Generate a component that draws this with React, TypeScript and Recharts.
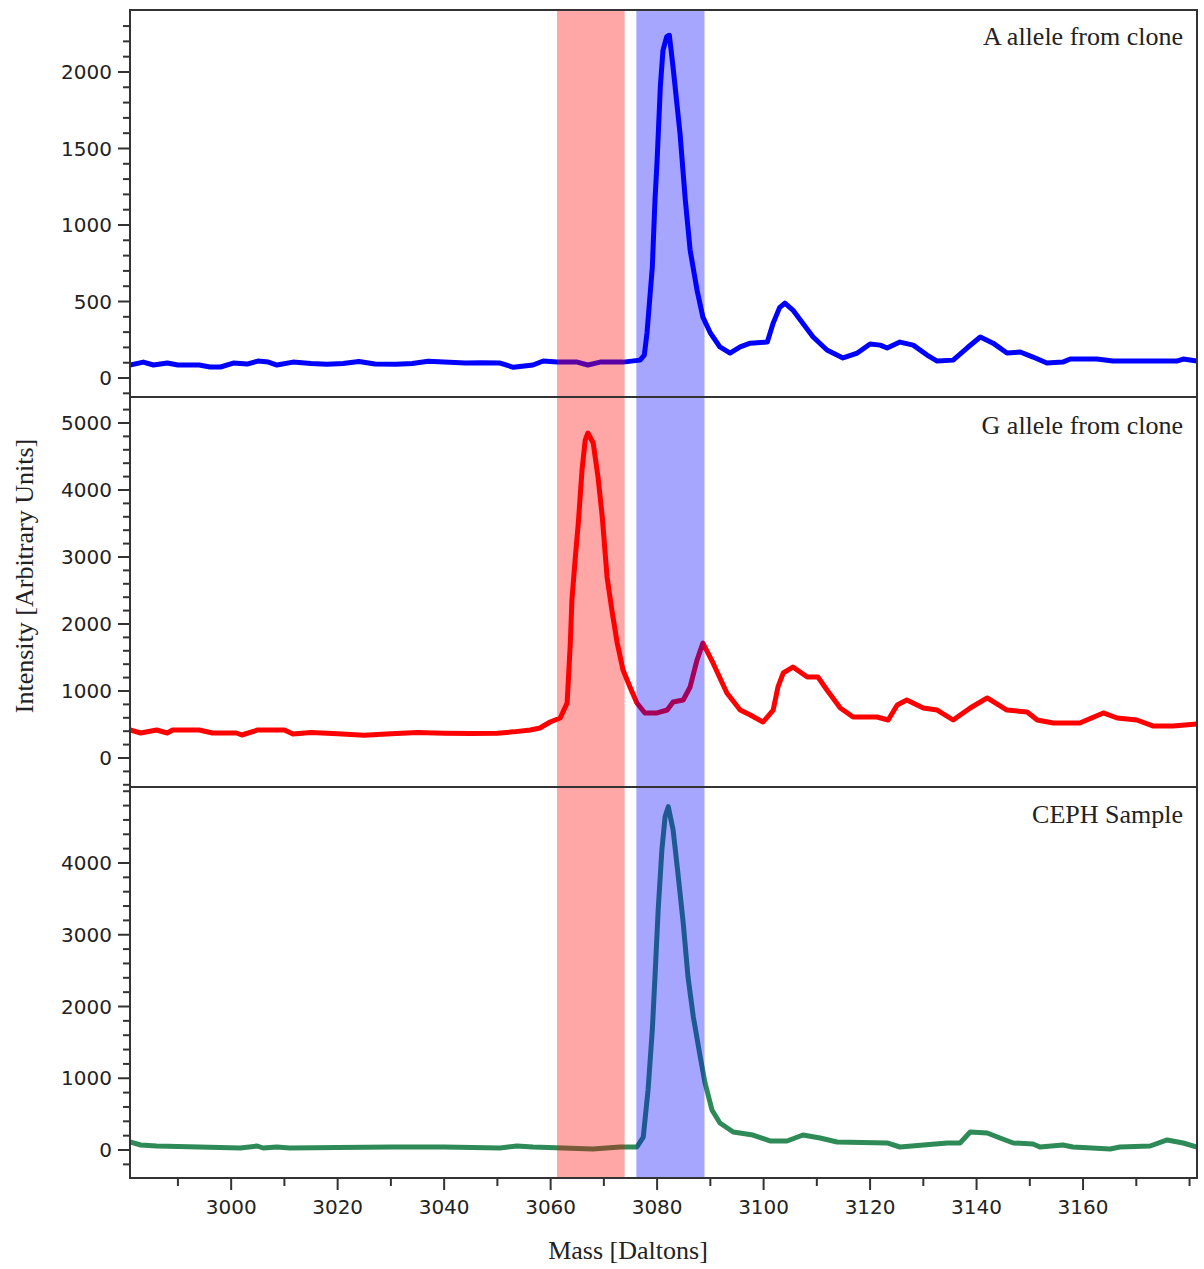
import React from "react";
import { LineChart, Line, XAxis, YAxis, ReferenceArea } from "recharts";

const X_MIN = 2981;
const X_MAX = 3181.4;

// x axis ticks (minor every 10, labels every 20)
const massTicks = [2990, 3000, 3010, 3020, 3030, 3040, 3050, 3060, 3070, 3080, 3090, 3100, 3110, 3120, 3130, 3140, 3150, 3160, 3170, 3180];
const massLabels = [3000, 3020, 3040, 3060, 3080, 3100, 3120, 3140, 3160];

// shaded mass windows
const gWindow = [3061.2, 3073.9];
const aWindow = [3076.1, 3088.9];

// A allele from clone
const aMass = [2981, 2983.5, 2985.4, 2988, 2990, 2994, 2996, 2998, 3000.4, 3003, 3005, 3007, 3008.6, 3011.6, 3015, 3018, 3021, 3024, 3027, 3031, 3034, 3037, 3040, 3044, 3047, 3050.5, 3053, 3056.7, 3058.6, 3061.2, 3065, 3067, 3069.3, 3073.6, 3076.8, 3077.6, 3078.1, 3079.1, 3079.6, 3080, 3080.6, 3081.1, 3081.8, 3082.3, 3083, 3084.3, 3085.3, 3086.2, 3087.5, 3088.6, 3090, 3091.8, 3093.7, 3095.6, 3097.5, 3100.7, 3101.8, 3103, 3104, 3105.5, 3106.9, 3109.3, 3111.9, 3114.9, 3117.6, 3120, 3121.9, 3123.2, 3125.6, 3128.1, 3130.7, 3132.6, 3135.6, 3138.2, 3140.7, 3143.1, 3145.7, 3148.2, 3150.6, 3153.2, 3156.2, 3157.6, 3162.6, 3165.6, 3177.6, 3178.8, 3181.4];
const aIntensity = [85, 104, 85, 98, 85, 85, 72, 72, 98, 91, 111, 104, 85, 104, 95, 90, 95, 108, 92, 90, 95, 110, 104, 98, 100, 98, 70, 85, 111, 104, 104, 85, 104, 104, 117, 150, 294, 725, 1162, 1423, 1900, 2141, 2230, 2240, 2030, 1600, 1162, 836, 574, 398, 294, 203, 163, 203, 228, 235, 359, 460, 490, 444, 379, 268, 183, 131, 163, 222, 215, 196, 235, 215, 150, 111, 117, 196, 268, 228, 163, 170, 137, 98, 104, 124, 124, 111, 111, 124, 111];

// G allele from clone
const gMass = [2981, 2983, 2986, 2988, 2989, 2994, 2996.5, 3001, 3002, 3005, 3010, 3011.6, 3015, 3020, 3025, 3030, 3035, 3040, 3045, 3050, 3053, 3056.2, 3058, 3059.9, 3061.8, 3063.1, 3063.7, 3064, 3064.6, 3065.2, 3065.9, 3066.5, 3067, 3068, 3068.9, 3069.7, 3070.6, 3071.5, 3072.5, 3073.6, 3074.9, 3076.2, 3077.7, 3080, 3081.9, 3083, 3084.9, 3086.2, 3087.5, 3088.6, 3090.5, 3093.1, 3095.6, 3097.5, 3099.9, 3101.8, 3102.7, 3103.7, 3105.5, 3108.2, 3110.2, 3111.9, 3114.4, 3116.8, 3121.3, 3123.4, 3125.1, 3126.9, 3130, 3132.6, 3135.6, 3138.8, 3142, 3145.7, 3149.5, 3151.4, 3154.4, 3159.4, 3163.8, 3166.4, 3170.1, 3173.1, 3176.9, 3181.4];
const gIntensity = [418, 373, 418, 373, 418, 418, 373, 373, 343, 418, 418, 358, 380, 360, 340, 360, 380, 370, 365, 370, 390, 418, 448, 537, 597, 821, 1716, 2358, 2955, 3507, 4298, 4746, 4851, 4701, 4194, 3597, 2701, 2209, 1716, 1313, 1060, 821, 672, 672, 716, 836, 866, 1060, 1463, 1716, 1418, 970, 716, 642, 537, 716, 1060, 1269, 1358, 1209, 1209, 1015, 746, 612, 612, 567, 791, 866, 746, 716, 567, 746, 896, 716, 687, 567, 522, 522, 672, 597, 567, 478, 478, 507];

// CEPH Sample
const cMass = [2981, 2983, 2986, 2994, 3001.7, 3004.9, 3006, 3008.6, 3011, 3020, 3030, 3040, 3050.5, 3053.7, 3056.7, 3067.9, 3073.1, 3076.2, 3077.4, 3078.3, 3079.1, 3079.6, 3080.2, 3080.9, 3081.5, 3082.1, 3083, 3083.9, 3084.9, 3085.8, 3086.8, 3088.1, 3089, 3090.3, 3091.8, 3094.3, 3098, 3101.2, 3104.4, 3107.4, 3110.6, 3113.8, 3123.2, 3125.6, 3134.5, 3136.9, 3138.8, 3142, 3144.4, 3146.9, 3150.6, 3151.9, 3156.2, 3158.1, 3165.1, 3166.9, 3172.6, 3175.8, 3178.8, 3181.4];
const cIntensity = [112, 70, 56, 42, 28, 56, 28, 42, 28, 35, 42, 42, 28, 56, 42, 14, 42, 42, 181, 837, 1674, 2413, 3348, 4185, 4645, 4785, 4464, 3864, 3167, 2413, 1855, 1297, 935, 558, 377, 251, 209, 126, 126, 209, 167, 112, 98, 42, 98, 98, 251, 237, 167, 98, 84, 42, 70, 42, 14, 42, 56, 140, 98, 42];

// y axis ticks
const aTicks = [-100, 0, 100, 200, 300, 400, 500, 600, 700, 800, 900, 1000, 1100, 1200, 1300, 1400, 1500, 1600, 1700, 1800, 1900, 2000, 2100, 2200, 2300];
const aLabels = [0, 500, 1000, 1500, 2000];
const gTicks = [-400, -200, 0, 200, 400, 600, 800, 1000, 1200, 1400, 1600, 1800, 2000, 2200, 2400, 2600, 2800, 3000, 3200, 3400, 3600, 3800, 4000, 4200, 4400, 4600, 4800, 5000, 5200];
const gLabels = [0, 1000, 2000, 3000, 4000, 5000];
const cTicks = [-200, 0, 200, 400, 600, 800, 1000, 1200, 1400, 1600, 1800, 2000, 2200, 2400, 2600, 2800, 3000, 3200, 3400, 3600, 3800, 4000, 4200, 4400, 4600, 4800, 5000];
const cLabels = [0, 1000, 2000, 3000, 4000];

const toPoints = (mass: number[], vals: number[]) => mass.map((m, i) => ({ mass: m, v: vals[i] }));

const AXIS = "#333";
const SANS = "DejaVu Sans";
const SERIF = "Liberation Serif";

const YTick = (props: any) => {
  const { x, y, payload, labels } = props;
  const major = labels.includes(payload.value);
  return (
    <g>
      <line x1={x - (major ? 12 : 7)} x2={x} y1={y} y2={y} stroke={AXIS} strokeWidth={2} />
      {major && (
        <text x={x - 18} y={y} dy="0.36em" textAnchor="end" fontFamily={SANS} fontSize={20} fill="#222">
          {payload.value}
        </text>
      )}
    </g>
  );
};

const XTick = (props: any) => {
  const { x, y, payload } = props;
  const major = massLabels.includes(payload.value);
  return (
    <g>
      <line x1={x} x2={x} y1={y} y2={y + (major ? 12 : 8)} stroke={AXIS} strokeWidth={2} />
      {major && (
        <text x={x} y={y + 36} textAnchor="middle" fontFamily={SANS} fontSize={20} fill="#222">
          {payload.value}
        </text>
      )}
    </g>
  );
};

type PanelProps = {
  top: number;
  height: number;
  marginTop: number;
  marginBottom: number;
  title: string;
  titleY: number;
  mass: number[];
  values: number[];
  color: string;
  domain: [number, number];
  ticks: number[];
  labels: number[];
  bottomAxis?: boolean;
  yTitle?: boolean;
};

function Panel(p: PanelProps) {
  const data = toPoints(p.mass, p.values);
  return (
    <div style={{ position: "absolute", left: 0, top: p.top }}>
      <LineChart width={1204} height={p.height} margin={{ top: p.marginTop, right: 7, bottom: p.marginBottom, left: 0 }}>
        <XAxis
          dataKey="mass"
          type="number"
          domain={[X_MIN, X_MAX]}
          allowDataOverflow
          ticks={massTicks}
          interval={0}
          hide={!p.bottomAxis}
          height={91}
          tickSize={0}
          tickMargin={0}
          tickLine={false}
          axisLine={{ stroke: AXIS, strokeWidth: 2 }}
          tick={(t: any) => <XTick {...t} />}
          label={
            p.bottomAxis
              ? () => (
                  <text x={628} y={472} textAnchor="middle" fontFamily={SERIF} fontSize={26} fill="#222">
                    Mass [Daltons]
                  </text>
                )
              : undefined
          }
        />
        <YAxis
          type="number"
          domain={p.domain}
          allowDataOverflow
          ticks={p.ticks}
          interval={0}
          width={130}
          tickSize={0}
          tickMargin={0}
          tickLine={false}
          axisLine={{ stroke: AXIS, strokeWidth: 2 }}
          tick={(t: any) => <YTick {...t} labels={p.labels} />}
          label={
            p.yTitle
              ? () => (
                  <text
                    x={33}
                    y={179}
                    transform="rotate(-90, 33, 179)"
                    textAnchor="middle"
                    fontFamily={SERIF}
                    fontSize={26}
                    fill="#222"
                  >
                    Intensity [Arbitrary Units]
                  </text>
                )
              : undefined
          }
        />
        <Line
          data={data}
          dataKey="v"
          type="linear"
          stroke={p.color}
          strokeWidth={5}
          strokeLinejoin="round"
          dot={false}
          activeDot={false}
          isAnimationActive={false}
        />
        <ReferenceArea x1={gWindow[0]} x2={gWindow[1]} fill="#ff0000" fillOpacity={0.35} stroke="none" zIndex={450} />
        <ReferenceArea x1={aWindow[0]} x2={aWindow[1]} fill="#0000ff" fillOpacity={0.35} stroke="none" zIndex={450} />
        <ReferenceArea
          x1={X_MIN}
          x2={X_MAX}
          y1={p.domain[0]}
          y2={p.domain[1]}
          fill="none"
          stroke={AXIS}
          strokeWidth={2}
          zIndex={460}
          label={() => (
            <text x={1183} y={p.titleY} textAnchor="end" fontFamily={SERIF} fontSize={26} fill="#222">
              {p.title}
            </text>
          )}
        />
      </LineChart>
    </div>
  );
}

export default function App() {
  return (
    <div style={{ position: "absolute", left: 0, top: 0, width: 1204, height: 1269, background: "#fff" }}>
      <Panel
        top={0}
        height={400}
        marginTop={10}
        marginBottom={3}
        title="A allele from clone"
        titleY={45}
        mass={aMass}
        values={aIntensity}
        color="#0000ff"
        domain={[-124, 2405]}
        ticks={aTicks}
        labels={aLabels}
      />
      <Panel
        top={397}
        height={390}
        marginTop={0}
        marginBottom={0}
        title="G allele from clone"
        titleY={37}
        mass={gMass}
        values={gIntensity}
        color="#ff0000"
        domain={[-433, 5388]}
        ticks={gTicks}
        labels={gLabels}
        yTitle
      />
      <Panel
        top={787}
        height={482}
        marginTop={0}
        marginBottom={0}
        title="CEPH Sample"
        titleY={36}
        mass={cMass}
        values={cIntensity}
        color="#2e8b57"
        domain={[-390, 5059]}
        ticks={cTicks}
        labels={cLabels}
        bottomAxis
      />
    </div>
  );
}
